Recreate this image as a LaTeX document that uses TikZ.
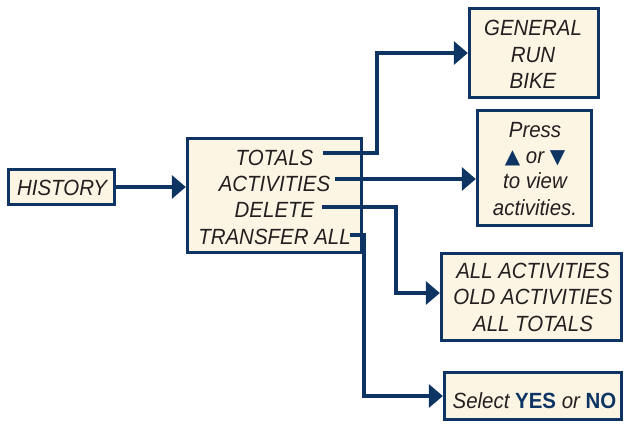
\documentclass[tikz,border=0pt]{standalone}
\usepackage{fontspec}
\setmainfont{Liberation Sans}[FakeStretch=0.93]
\newfontfamily\symfont{DejaVu Sans}
\usetikzlibrary{arrows.meta}
\definecolor{navy}{RGB}{14,52,100}
\definecolor{cream}{RGB}{253,245,228}
\definecolor{ink}{RGB}{35,31,32}
\tikzset{
  box/.style={draw=navy, fill=cream, line width=2.8pt, rectangle, inner sep=0pt},
  lbl/.style={anchor=base, inner sep=0pt, text=ink, font=\itshape\fontsize{22}{26}\selectfont},
  conn/.style={draw=navy, line width=3.3pt, -{Triangle[length=14pt,width=23pt]}},
}
\begin{document}
\begin{tikzpicture}[x=1pt,y=-1pt]
\useasboundingbox (0,0) rectangle (626,426);
% boxes
\node[box, minimum width=106.5pt, minimum height=35.5pt] (hist) at (61.5,187) {};
\node[box, minimum width=174.5pt, minimum height=114.5pt] (menu) at (274.5,195.5) {};
\node[box, minimum width=129.5pt, minimum height=89.5pt] (gen) at (534,53) {};
\node[box, minimum width=114.5pt, minimum height=115.5pt] (press) at (534.5,168) {};
\node[box, minimum width=180.5pt, minimum height=87.5pt] (del) at (531.5,297) {};
\node[box, minimum width=177.5pt, minimum height=47.5pt] (sel) at (533,396) {};
% texts
\node[lbl] (thist) at (62,195) {HISTORY};
\node[lbl] (ttot) at (274.5,165) {TOTALS};
\node[lbl] (tact) at (274.5,191) {ACTIVITIES};
\node[lbl] (tdel) at (274.5,217) {DELETE};
\node[lbl] (ttra) at (274.5,244) {TRANSFER ALL};
\node[lbl] (tgen) at (533,35) {GENERAL};
\node[lbl] (trun) at (533,62) {RUN};
\node[lbl] (tbike) at (533,88) {BIKE};
\node[lbl] (tpress) at (535,137) {Press};
\node[lbl] (tor) at (535,163) {{\upshape\symfont\fontsize{20}{22}\selectfont\color{navy}▲} or {\upshape\symfont\fontsize{20}{22}\selectfont\color{navy}▼}};
\node[lbl] (tview) at (535,188) {to view};
\node[lbl] (tacts) at (535,215) {activities.};
\node[lbl] (tall) at (533,278) {ALL ACTIVITIES};
\node[lbl] (told) at (533,304) {OLD ACTIVITIES};
\node[lbl] (talt) at (533,331) {ALL TOTALS};
\node[lbl] (tsel) at (534.5,408) {Select {\upshape\bfseries\color{navy}YES} or {\upshape\bfseries\color{navy}NO}};
% connector start points
\coordinate (c1) at (323,153);
\coordinate (c2) at (335,179);
\coordinate (c3) at (322,207);
\coordinate (c4) at (350,235);
% connectors
\draw[conn] (hist.east) -- (hist.east -| menu.west);
\draw[conn] (c1) -- (377,153) |- (gen.west);
\draw[conn] (c2) -- (c2 -| press.west);
\draw[conn] (c3) -- (396,207) |- ([yshift=4pt]del.west);
\draw[conn] (c4) -- (364,235) |- (sel.west);
\end{tikzpicture}
\end{document}
